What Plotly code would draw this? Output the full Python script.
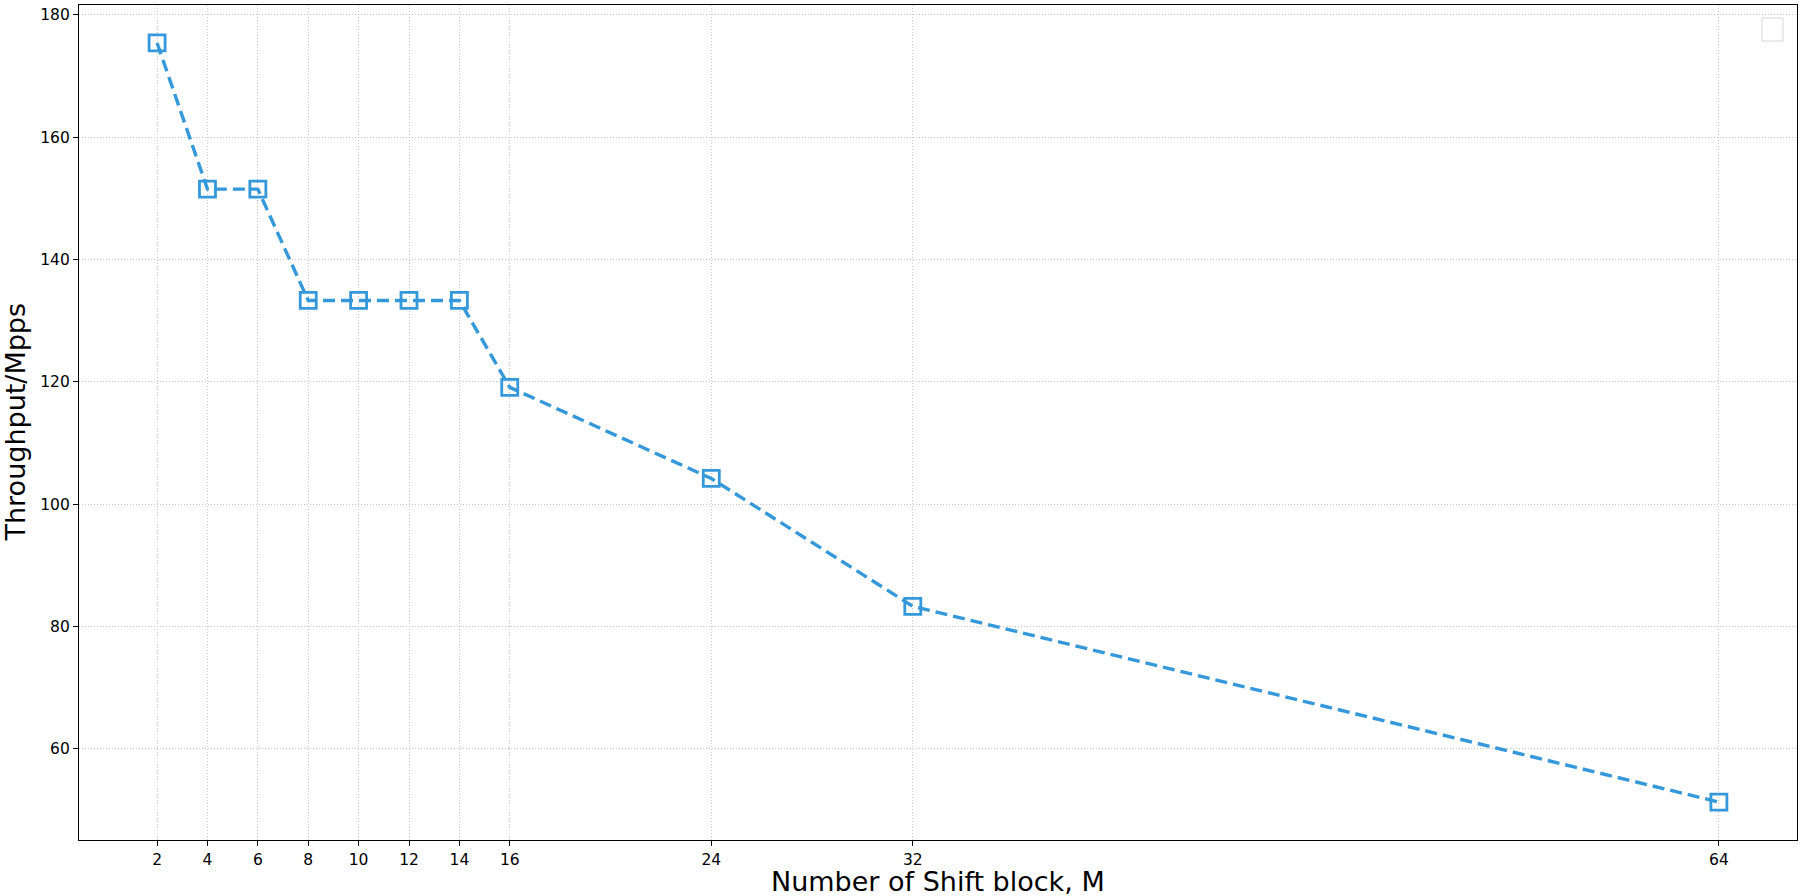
import plotly.graph_objects as go

blocks = [2, 4, 6, 8, 10, 12, 14, 16, 24, 32, 64]
throughput = [175.4, 151.5, 151.5, 133.3, 133.3, 133.3, 133.3, 119.1, 104.2, 83.3, 51.3]
x_ticks = [2, 4, 6, 8, 10, 12, 14, 16, 24, 32, 64]
y_ticks = [60, 80, 100, 120, 140, 160, 180]

x_title = "Number of Shift block, M"
y_title = "Throughput/Mpps"

color = "#3498db"
font = "DejaVu Sans"

fig = go.Figure()
fig.add_trace(go.Scatter(
    x=blocks, y=throughput, mode="lines+markers",
    line=dict(color=color, width=3.4, dash="12px,6px"),
    marker=dict(symbol="square-open", size=16, color=color, line=dict(width=2.8, color=color)),
    showlegend=False,
))

W, H = 1801, 896
ml, mr, mt, mb = 79, 4, 5, 56
pw, ph = W - ml - mr, H - mt - mb

# empty legend frame (top-right), as in the reference
fig.add_shape(type="rect", xref="paper", yref="paper",
              x0=(1762 - ml) / pw, x1=(1783 - ml) / pw,
              y0=1 - (41 - mt) / ph, y1=1 - (18 - mt) / ph,
              line=dict(color="#d6d6d6", width=1), fillcolor="rgba(255,255,255,0.8)")

# axis titles as annotations for exact placement
fig.add_annotation(text=x_title, xref="paper", yref="paper", x=0.5, y=-(881.5 - (H - mb)) / ph,
                   xanchor="center", yanchor="middle", showarrow=False,
                   font=dict(family=font, size=27, color="black"))
fig.add_annotation(text=y_title, xref="paper", yref="paper", x=-(ml - 15) / pw, y=0.5,
                   xanchor="center", yanchor="middle", showarrow=False, textangle=-90,
                   font=dict(family=font, size=27, color="black"))

axis_common = dict(
    showline=True, linecolor="black", linewidth=1.2, mirror=True,
    ticks="outside", ticklen=5, tickwidth=1, tickcolor="black",
    showgrid=True, gridcolor="#c8c8c8", gridwidth=1, griddash="1px,2px",
    zeroline=False, tickfont=dict(family=font, size=15.5, color="black"),
    automargin=False,
)

# matplotlib-style 5% padding around the data
xpad = 0.05 * (max(blocks) - min(blocks))
ypad = 0.05 * (max(throughput) - min(throughput))

fig.update_xaxes(range=[min(blocks) - xpad, max(blocks) + xpad], tickmode="array",
                 tickvals=x_ticks, ticktext=[str(v) for v in x_ticks], **axis_common)
fig.update_yaxes(range=[min(throughput) - ypad, max(throughput) + ypad], tickmode="array",
                 tickvals=y_ticks, ticktext=[str(v) for v in y_ticks], **axis_common)

fig.update_layout(
    width=W, height=H, margin=dict(l=ml, r=mr, t=mt, b=mb, autoexpand=False),
    plot_bgcolor="white", paper_bgcolor="white",
    font=dict(family=font, color="black"),
)

fig.write_html(
    "out.html",
    config={"displayModeBar": False},
    post_script="document.body.style.margin='0';document.body.style.overflow='hidden';",
)
